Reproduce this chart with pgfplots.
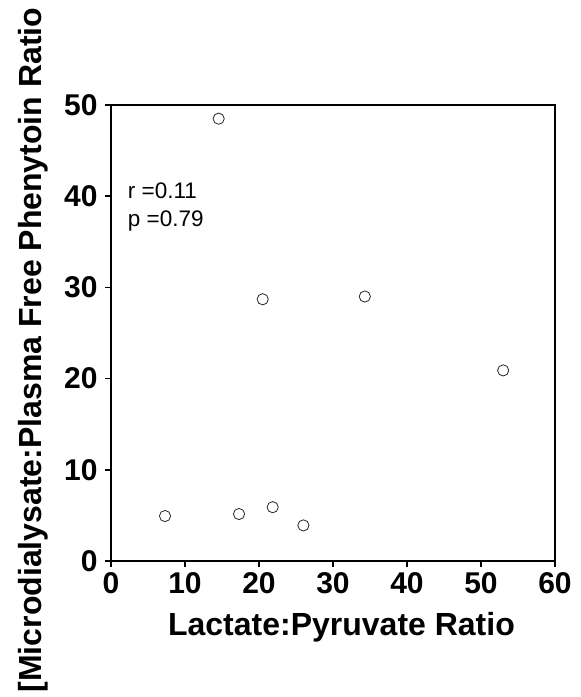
\documentclass[border=0pt]{standalone}
\usepackage{fontspec}
\setmainfont{Liberation Sans}
\usepackage{pgfplots}
\pgfplotsset{compat=1.18}
\begin{document}
\begin{tikzpicture}
\begin{axis}[
  name=main, at={(0pt,0pt)}, anchor=origin,
  scale only axis, width=444pt, height=456pt,
  xmin=0, xmax=60, ymin=0, ymax=50,
  xtick={0,10,...,60}, ytick={0,10,...,50},
  axis line style={line width=2.8pt},
  tick align=outside, tick pos=left, major tick length=6pt,
  every tick/.style={black, line width=1.5pt},
  tick label style={font=\fontsize{30}{30}\selectfont\bfseries},
  yticklabel style={xshift=-4pt},
  xticklabel style={yshift=-2pt},
  /pgf/number format/assume math mode=true,
  clip=false,
]
\addplot[only marks, mark=o, mark size=5.6pt, mark options={line width=0.8pt, draw=black!85}] coordinates {
  (14.55,48.5) (7.3,4.93) (17.3,5.15) (21.85,5.9) (26.0,3.9) (34.3,29.0) (53.0,20.9) (20.5,28.7)
};
\node[anchor=base west, inner sep=0pt, font=\fontsize{22.5}{22.5}\selectfont] at (axis cs:2.26,39.77) {r =0.11};
\node[anchor=base west, inner sep=0pt, font=\fontsize{22.5}{22.5}\selectfont] at (axis cs:2.26,36.66) {p =0.79};
\end{axis}
\node[rotate=90, anchor=base, font=\fontsize{32}{32}\selectfont\bfseries] at (-69pt,211pt) {[Microdialysate:Plasma Free Phenytoin Ratio};
\node[anchor=base, font=\fontsize{32}{32}\selectfont\bfseries] at (230.5pt,-74pt) {Lactate:Pyruvate Ratio};
\pgfresetboundingbox
\path[use as bounding box] (-111pt,-136pt) rectangle (470pt,561pt);
\end{tikzpicture}
\end{document}
